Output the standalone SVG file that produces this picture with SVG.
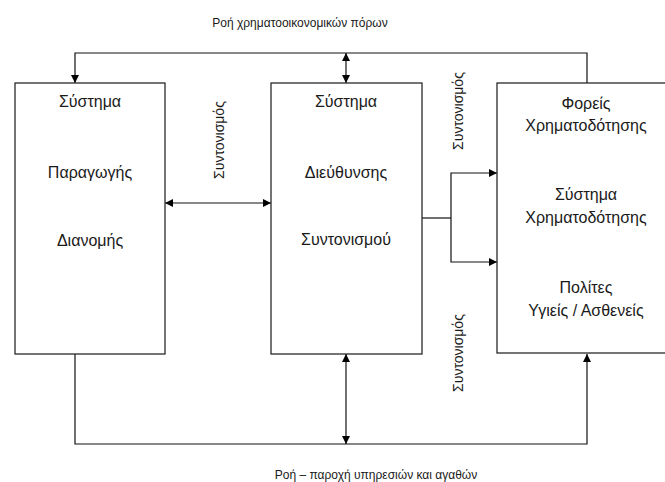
<svg xmlns="http://www.w3.org/2000/svg" width="665" height="482" viewBox="0 0 665 482">
<style>
  .box { fill: #ffffff; stroke: #2a2a2a; stroke-width: 1.3; }
  .ln { fill: none; stroke: #111; stroke-width: 1.2; }
  .t { font-family: "Liberation Sans", Arial, sans-serif; font-size: 16px; fill: #1a1a1a; text-anchor: middle; }
  .s { font-family: "Liberation Sans", Arial, sans-serif; font-size: 12px; fill: #1a1a1a; text-anchor: middle; }
  .v { font-family: "Liberation Sans", Arial, sans-serif; font-size: 14px; fill: #1a1a1a; text-anchor: middle; }
</style>
<defs>
  <marker id="ah" viewBox="0 0 10 10" refX="10" refY="5" markerWidth="9" markerHeight="8" markerUnits="userSpaceOnUse" orient="auto-start-reverse">
    <path d="M0,0 L10,5 L0,10 Z" fill="#000"/>
  </marker>
</defs>
<rect width="665" height="482" fill="#ffffff"/>

<g id="connectors">
  <!-- top flow -->
  <polyline class="ln" points="587,83 587,53 75,53 75,83" marker-end="url(#ah)"/>
  <line class="ln" x1="346" y1="53" x2="346" y2="83" marker-start="url(#ah)" marker-end="url(#ah)"/>
  <!-- box1 to box2 -->
  <line class="ln" x1="165" y1="203" x2="271" y2="203" marker-start="url(#ah)" marker-end="url(#ah)"/>
  <!-- box2 to box3 branches -->
  <line class="ln" x1="422" y1="218" x2="451" y2="218"/>
  <polyline class="ln" points="497,173 451,173 451,262 497,262" marker-start="url(#ah)" marker-end="url(#ah)"/>
  <!-- bottom flow -->
  <polyline class="ln" points="75,354 75,444 587,444 587,354" marker-end="url(#ah)"/>
  <line class="ln" x1="346" y1="354" x2="346" y2="444" marker-start="url(#ah)" marker-end="url(#ah)"/>
</g>

<g id="box-production">
  <rect class="box" x="15" y="83" width="150" height="271"/>
  <text class="t" x="90" y="107">Σύστημα</text>
  <text class="t" x="90" y="178">Παραγωγής</text>
  <text class="t" x="90" y="246">Διανομής</text>
</g>

<g id="box-management">
  <rect class="box" x="271" y="83" width="151" height="271"/>
  <text class="t" x="346" y="107">Σύστημα</text>
  <text class="t" x="346" y="178">Διεύθυνσης</text>
  <text class="t" x="346" y="245">Συντονισμού</text>
</g>

<g id="box-financing">
  <rect class="box" x="497" y="83" width="175" height="270"/>
  <text class="t" x="586" y="109">Φορείς</text>
  <text class="t" x="586" y="131">Χρηματοδότησης</text>
  <text class="t" x="586" y="200">Σύστημα</text>
  <text class="t" x="586" y="223">Χρηματοδότησης</text>
  <text class="t" x="586" y="293">Πολίτες</text>
  <text class="t" x="586" y="316">Υγιείς / Ασθενείς</text>
</g>

<g id="labels">
  <text class="s" x="300" y="27">Ροή χρηματοοικονομικών πόρων</text>
  <text class="s" x="376" y="479">Ροή – παροχή υπηρεσιών και αγαθών</text>
  <text class="v" transform="translate(224,140) rotate(-90)">Συντονισμός</text>
  <text class="v" transform="translate(463,111) rotate(-90)">Συντονισμός</text>
  <text class="v" transform="translate(463,353) rotate(-90)">Συντονισμός</text>
</g>
</svg>
